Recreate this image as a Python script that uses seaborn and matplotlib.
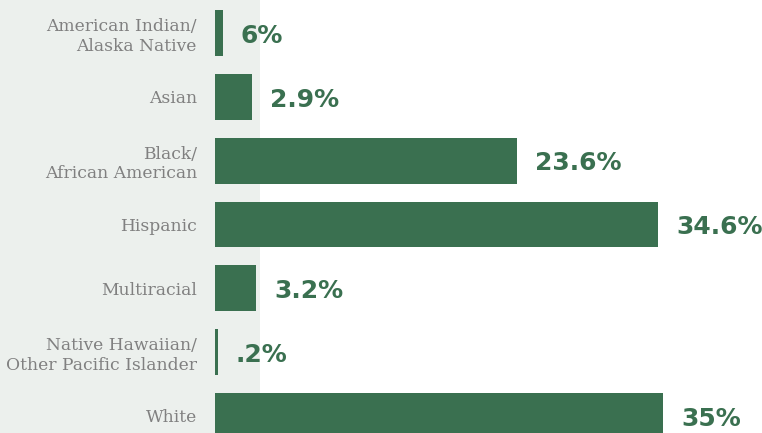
import pandas as pd
import numpy as np
import matplotlib.pyplot as plt
import seaborn as sns
from matplotlib.patches import Rectangle

# dados do grafico
grupos = ["American Indian/\nAlaska Native", "Asian", "Black/\nAfrican American",
          "Hispanic", "Multiracial", "Native Hawaiian/\nOther Pacific Islander", "White"]
valores = [0.6, 2.9, 23.6, 34.6, 3.2, 0.2, 35.0]
rotulos = ["6%", "2.9%", "23.6%", "34.6%", "3.2%", ".2%", "35%"]

verde = "#3a7050"
cinza = "#808080"
fundo = "#ecf0ed"

df = pd.DataFrame({"grupo": grupos, "valor": valores})

sns.set_style("white")
fig = plt.figure(figsize=(7.62, 4.33), dpi=100)
fig.patch.set_facecolor("white")

# painel claro da esquerda
fig.patches.append(Rectangle((0, 0), 260 / 762, 1, transform=fig.transFigure,
                             facecolor=fundo, edgecolor="none", zorder=-10))

ax = fig.add_axes([215 / 762, 0, 1 - 215 / 762, 1])
ax.patch.set_alpha(0)
sns.barplot(data=df, x="valor", y="grupo", color=verde, saturation=1,
            width=0.72, linewidth=0, ax=ax)

ax.set_xlim(0, 42.7)
ax.set_ylim(6.27, -0.52)
ax.set_xlabel("")
ax.set_ylabel("")
ax.set_xticks([])
sns.despine(ax=ax, left=True, bottom=True)
ax.tick_params(axis="y", length=0, pad=13)
for t in ax.get_yticklabels():
    t.set_family("DejaVu Serif")
    t.set_fontsize(12.3)
    t.set_color(cinza)
    t.set_linespacing(1.2)
    t.set_horizontalalignment("right")
    t.set_multialignment("right")

# rotulos de valor
for i, (v, r) in enumerate(zip(valores, rotulos)):
    ax.annotate(r, (v, i), xytext=(13, -2), textcoords="offset points",
                ha="left", va="center", fontsize=18, fontweight="heavy",
                color=verde, family="DejaVu Sans")

fig.savefig("out.png", dpi=100)
